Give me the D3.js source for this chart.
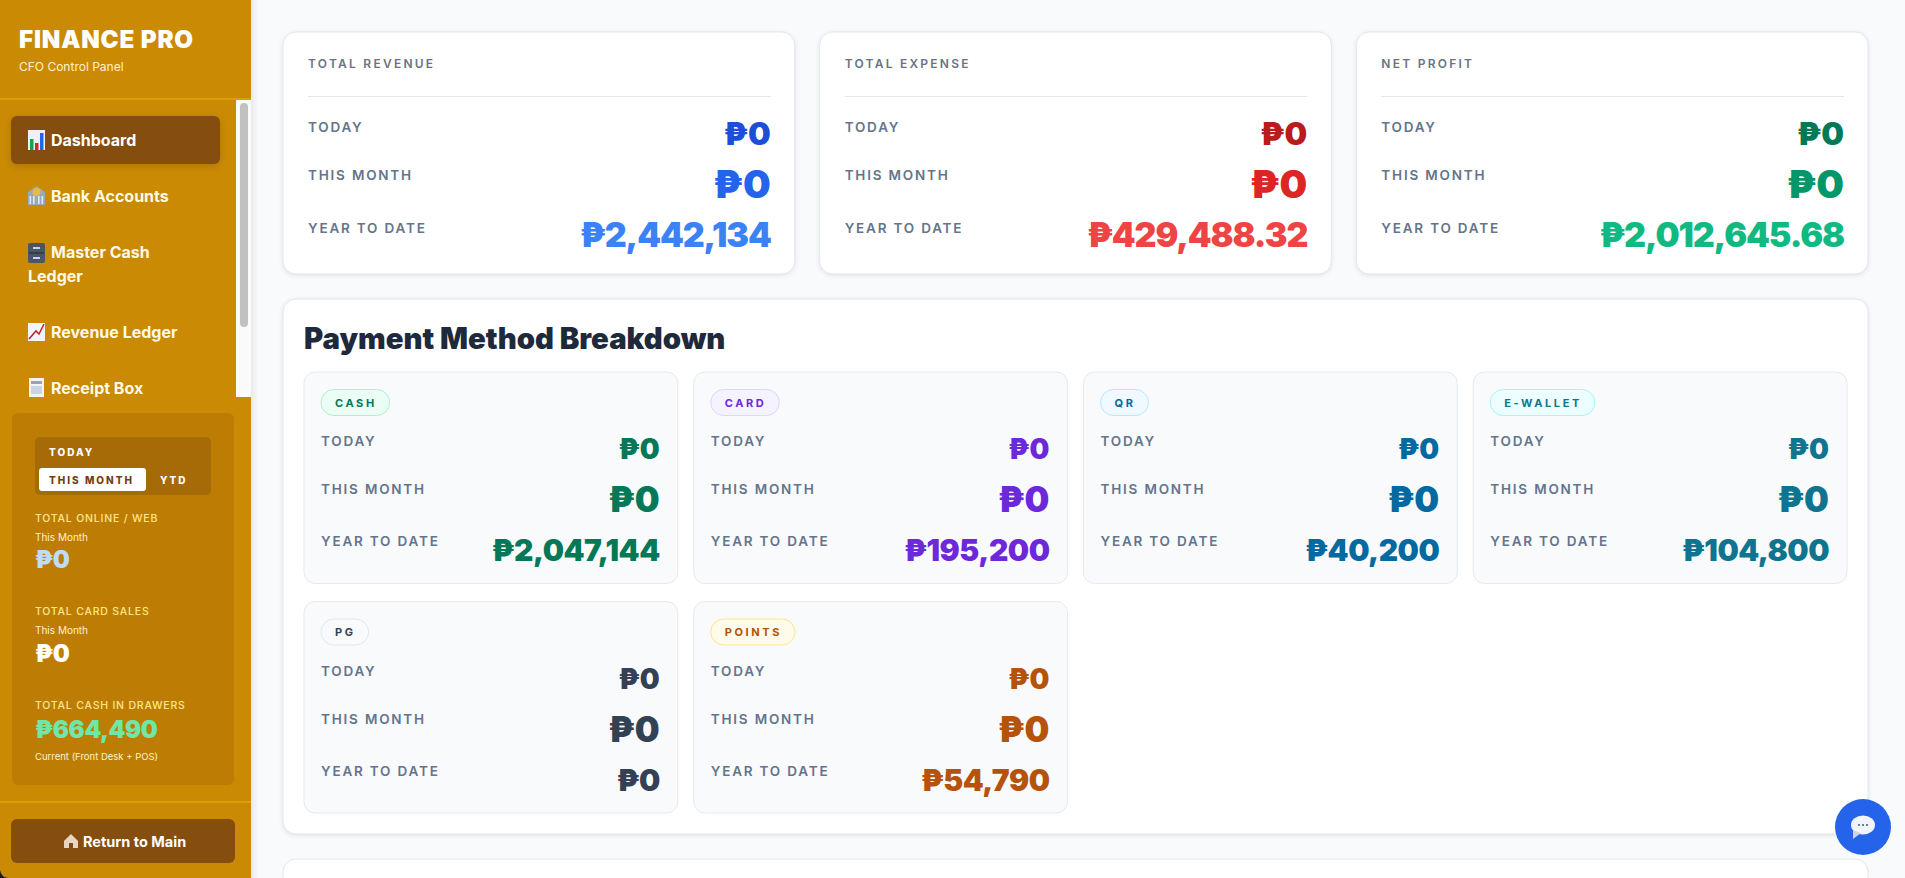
<!DOCTYPE html>
<html>
<head>
<meta charset="utf-8">
<title>Finance Pro</title>
<script src="https://cdn.jsdelivr.net/npm/d3@7"></script>
<style>
html, body { margin: 0; padding: 0; background: #f8fafc; overflow: hidden; }
svg { display: block; }
text { font-family: Inter, "Noto Sans", sans-serif; }
</style>
</head>
<body>
<div id="chart"></div>
<script>
// Summary cards
var summaryTitles = ['TOTAL REVENUE', 'TOTAL EXPENSE', 'NET PROFIT'];
var periodLabels = ['TODAY', 'THIS MONTH', 'YEAR TO DATE'];
var revenueValues = [0, 0, 2442134];
var expenseValues = [0, 0, 429488.32];
var profitValues = [0, 0, 2012645.68];
var revenueColors = ['#1d4ed8', '#2563eb', '#3b82f6'];
var expenseColors = ['#b91c1c', '#dc2626', '#ef4444'];
var profitColors = ['#047857', '#059669', '#10b981'];

// Payment methods
var methodNames = ['CASH', 'CARD', 'QR', 'E-WALLET', 'PG', 'POINTS'];
var methodToday = [0, 0, 0, 0, 0, 0];
var methodMonth = [0, 0, 0, 0, 0, 0];
var methodYtd = [2047144, 195200, 40200, 104800, 0, 54790];
var methodColors = ['#047857', '#6d28d9', '#0369a1', '#0e7490', '#334155', '#b45309'];
var pillFills = ['#ecfdf5', '#f5f3ff', '#f0f9ff', '#ecfeff', '#f8fafc', '#fffbeb'];
var pillBorders = ['#a7f3d0', '#ddd6fe', '#bae6fd', '#a5f3fc', '#e2e8f0', '#fde68a'];

// Sidebar
var navLabels = ['Dashboard', 'Bank Accounts', 'Master Cash', 'Ledger', 'Revenue Ledger', 'Receipt Box'];
var navYs = [140, 196, 252, 276, 332, 388];
var navX = [51, 51, 51, 28, 51, 51];

var totalNames = ['TOTAL ONLINE / WEB', 'TOTAL CARD SALES', 'TOTAL CASH IN DRAWERS'];
var totalSubs = ['This Month', 'This Month', 'Current (Front Desk + POS)'];
var totalValues = [0, 0, 664490];
var totalColors = ['#bfdbfe', '#ffffff', '#6ee7a8'];

var width = 1905, height = 878;
var money = d3.format(',');
function peso(v) { return '\u20B1' + money(v); }

var svg = d3.select('#chart').append('svg')
	.attr('width', width)
	.attr('height', height);

var defs = svg.append('defs');
defs.append('clipPath').attr('id', 'navClip')
	.append('rect').attr('x', 0).attr('y', 99).attr('width', 251).attr('height', 298);
var sideShadow = defs.append('linearGradient').attr('id', 'sideShadow');
sideShadow.append('stop').attr('offset', 0).attr('stop-color', '#e8eaed');
sideShadow.append('stop').attr('offset', 1).attr('stop-color', '#f8fafc');

function label(g, x, y, txt, o) {
	return g.append('text')
		.attr('x', x)
		.attr('y', y)
		.attr('text-anchor', o.anchor || 'start')
		.attr('dominant-baseline', 'central')
		.style('font-size', o.size + 'px')
		.style('font-weight', o.weight || 400)
		.style('letter-spacing', (o.spacing || 0) + 'px')
		.attr('fill', o.fill)
		.text(txt);
}

// page background
svg.append('rect').attr('width', width).attr('height', height).attr('fill', '#f8fafc');
svg.append('rect').attr('x', 251).attr('width', 8).attr('height', height).attr('fill', 'url(#sideShadow)');

/* Main area */
var main = svg.append('g');
var cardX = d3.scaleBand().domain(summaryTitles).range([283, 1868]).paddingInner(25 / 537);
var cardValueSize = d3.scaleOrdinal(periodLabels, [32, 39, 34]);
var cardLabelY = d3.scaleOrdinal(periodLabels, [127, 175, 227.5]);
var cardValueY = d3.scaleOrdinal(periodLabels, [133.5, 183.5, 234]);

var seriesByCard = [revenueValues, expenseValues, profitValues];
var colorsByCard = [revenueColors, expenseColors, profitColors];

summaryTitles.forEach(function(t, i) {
	var g = main.append('g');
	var x0 = cardX(t), w = cardX.bandwidth();
	g.append('rect')
		.attr('x', x0).attr('y', 32).attr('width', w).attr('height', 242)
		.attr('rx', 13).attr('fill', '#fff').attr('stroke', '#e2e8f0')
		.style('filter', 'drop-shadow(0 1px 2px rgba(15,23,42,.10))');
	label(g, x0 + 25, 63.5, t, {size: 12, weight: 600, spacing: 2.25, fill: '#6b7280'});
	g.append('line')
		.attr('x1', x0 + 25).attr('x2', x0 + w - 24)
		.attr('y1', 96.5).attr('y2', 96.5)
		.attr('stroke', '#e5e7eb');
	periodLabels.forEach(function(p, j) {
		label(g, x0 + 25, cardLabelY(p), p, {size: 13.5, weight: 600, spacing: 1.8, fill: '#64748b'});
		label(g, x0 + w - 24, cardValueY(p), peso(seriesByCard[i][j]), {
			size: cardValueSize(p), weight: 900, spacing: j === 2 ? -1.1 : 0, anchor: 'end', fill: colorsByCard[i][j]
		});
	});
});

// Payment panel
main.append('rect')
	.attr('x', 283).attr('y', 299).attr('width', 1585).attr('height', 535)
	.attr('rx', 13).attr('fill', '#fff').attr('stroke', '#e2e8f0')
	.style('filter', 'drop-shadow(0 1px 2px rgba(15,23,42,.10))');
label(main, 304, 338, 'Payment Method Breakdown', {size: 29.3, weight: 900, fill: '#1e293b'});

var colX = d3.scaleBand().domain(d3.range(4)).range([304, 1847]).paddingInner(16 / 390);
var rowY = d3.scaleBand().domain(d3.range(2)).range([372, 813]).paddingInner(18 / 229);
var methodValueSize = d3.scaleOrdinal(periodLabels, [28, 35, 30]);
var methodLabelDy = d3.scaleOrdinal(periodLabels, [69, 117, 169]);
var methodValueDy = d3.scaleOrdinal(periodLabels, [77, 127, 178]);

var methods = svg.selectAll('g.method')
	.data(methodNames)
	.enter()
	.append('g')
	.attr('class', 'method')
	.attr('transform', function(d, i) {
		return 'translate(' + colX(i % 4) + ',' + rowY(Math.floor(i / 4)) + ')';
	});

methods.append('rect')
	.attr('width', colX.bandwidth())
	.attr('height', rowY.bandwidth())
	.attr('rx', 11)
	.attr('fill', '#f8fafc')
	.attr('stroke', '#e5e9f0');

methods.each(function(d, i) {
	var g = d3.select(this);
	var w = colX.bandwidth();
	var pill = label(g, 31, 30.5, d, {size: 11, weight: 700, spacing: 2.6, fill: methodColors[i]});
	var tw = pill.node().getComputedTextLength();
	g.insert('rect', 'text')
		.attr('x', 17).attr('y', 17.5)
		.attr('width', tw + 27).attr('height', 26)
		.attr('rx', 13)
		.attr('fill', pillFills[i])
		.attr('stroke', pillBorders[i]);
	var vals = [methodToday[i], methodMonth[i], methodYtd[i]];
	periodLabels.forEach(function(p, j) {
		label(g, 17, methodLabelDy(p), p, {size: 13.5, weight: 600, spacing: 1.8, fill: '#64748b'});
		label(g, w - 18, methodValueDy(p), peso(vals[j]), {
			size: methodValueSize(p), weight: 900, spacing: j === 2 ? -0.5 : 0, anchor: 'end', fill: methodColors[i]
		});
	});
});

// Next panel, cut by the window
main.append('rect')
	.attr('x', 283).attr('y', 859).attr('width', 1585).attr('height', 60)
	.attr('rx', 13).attr('fill', '#fff').attr('stroke', '#e2e8f0');

/* Sidebar */
var side = svg.append('g');
side.append('rect').attr('width', 251).attr('height', height).attr('fill', '#ca8a04');
label(side, 19, 39, 'FINANCE PRO', {size: 24.2, weight: 900, spacing: 0.8, fill: '#fff'});
label(side, 19, 66, 'CFO Control Panel', {size: 12, fill: '#fef3c7'});
side.append('line').attr('x1', 0).attr('x2', 251).attr('y1', 99).attr('y2', 99).attr('stroke', '#eab308');

// nav scroll area
side.append('rect').attr('x', 236).attr('y', 100).attr('width', 15).attr('height', 297).attr('fill', '#fafafa');
side.append('rect').attr('x', 240).attr('y', 103).attr('width', 8).attr('height', 224).attr('rx', 4).attr('fill', '#c1c1c1');

var nav = side.append('g').attr('clip-path', 'url(#navClip)');
nav.append('rect').attr('x', 11).attr('y', 116).attr('width', 209).attr('height', 48).attr('rx', 6)
	.attr('fill', '#854d0e')
	.style('filter', 'drop-shadow(0 2px 3px rgba(0,0,0,.15))');
nav.selectAll('text')
	.data(navLabels)
	.enter()
	.append('text')
	.attr('x', function(d, i) { return navX[i]; })
	.attr('y', function(d, i) { return navYs[i]; })
	.attr('dominant-baseline', 'central')
	.style('font-size', '16px')
	.style('font-weight', 700)
	.attr('fill', function(d, i) { return i === 0 ? '#fff' : '#fef9e7'; })
	.text(function(d) { return d; });

// small nav icons, the emoji font is not available
function barsIcon(g, x, y) {
	g.append('rect').attr('x', x).attr('y', y).attr('width', 17).attr('height', 20).attr('fill', '#eef2f7');
	[[2, 9, '#16a34a'], [7, 13, '#dc2626'], [12, 3, '#2563eb']].forEach(function(b) {
		g.append('rect').attr('x', x + b[0]).attr('y', y + b[1]).attr('width', 3.5).attr('height', 20 - b[1]).attr('fill', b[2]);
	});
}
barsIcon(nav, 28, 130);

var bank = nav.append('g');
bank.append('path').attr('d', 'M28 192 L36.5 186 L45 192 L45 205 L28 205 Z').attr('fill', '#9aa9b8');
bank.selectAll('rect').data([29.5, 33, 38, 41.5]).enter().append('rect')
	.attr('x', function(d) { return d; }).attr('y', 196).attr('width', 1.6).attr('height', 8).attr('fill', '#e2e8f0');
bank.append('circle').attr('cx', 36.5).attr('cy', 192).attr('r', 4).attr('fill', '#e7b949');

nav.append('rect').attr('x', 28).attr('y', 243).attr('width', 17).attr('height', 20).attr('rx', 2).attr('fill', '#4b5563');
nav.append('line').attr('x1', 29).attr('x2', 44).attr('y1', 253).attr('y2', 253).attr('stroke', '#1f2937');
nav.selectAll('rect.handle').data([247, 257]).enter().append('rect').attr('class', 'handle')
	.attr('x', 33).attr('y', function(d) { return d; }).attr('width', 7).attr('height', 2).attr('fill', '#cbd5e1');

nav.append('rect').attr('x', 28).attr('y', 323).attr('width', 17).attr('height', 18).attr('fill', '#f1f5f9');
nav.append('path').attr('d', 'M29 339 L36 331 L39 334 L44 324').attr('fill', 'none').attr('stroke', '#c0262d').attr('stroke-width', 1.6);
nav.append('rect').attr('x', 29).attr('y', 378).attr('width', 15).attr('height', 19).attr('fill', '#f1f5f9');
nav.append('rect').attr('x', 31).attr('y', 381).attr('width', 11).attr('height', 3).attr('fill', '#94a3b8');
nav.append('rect').attr('x', 31).attr('y', 386).attr('width', 11).attr('height', 8).attr('fill', '#cbd5e1');

// totals panel
side.append('rect').attr('x', 12).attr('y', 413).attr('width', 222).attr('height', 372).attr('rx', 6).attr('fill', '#bd7d04');
side.append('rect').attr('x', 35).attr('y', 437).attr('width', 176).attr('height', 58).attr('rx', 5).attr('fill', '#a66a06');
side.append('rect').attr('x', 39).attr('y', 468).attr('width', 107).attr('height', 23).attr('rx', 3).attr('fill', '#fff');
label(side, 49, 452, 'TODAY', {size: 10, weight: 800, spacing: 2, fill: '#fff'});
label(side, 49, 479.5, 'THIS MONTH', {size: 10, weight: 800, spacing: 2, fill: '#713f12'});
label(side, 160, 479.5, 'YTD', {size: 10, weight: 800, spacing: 2, fill: '#fff'});

var totalNameY = d3.scaleOrdinal(totalNames, [518, 611, 705]);
var totalSubY = d3.scaleOrdinal(totalNames, [537, 630, 756]);
var totalValueY = d3.scaleOrdinal(totalNames, [559, 653, 729]);

totalNames.forEach(function(t, i) {
	label(side, 35, totalNameY(t), t, {size: 10.5, weight: 500, spacing: 0.8, fill: '#fde68a'});
	label(side, 35, totalSubY(t), totalSubs[i], {size: i === 2 ? 9.5 : 10, fill: '#fef3c7'});
	label(side, 35, totalValueY(t), peso(totalValues[i]), {size: 24, weight: 900, spacing: -0.4, fill: totalColors[i]});
});

// footer
side.append('line').attr('x1', 0).attr('x2', 251).attr('y1', 802).attr('y2', 802).attr('stroke', '#eab308');
side.append('rect').attr('x', 11).attr('y', 819).attr('width', 224).attr('height', 44).attr('rx', 6).attr('fill', '#854d0e');
label(side, 83, 841, 'Return to Main', {size: 14.5, weight: 700, fill: '#fff'});
side.append('path').attr('d', 'M64 841 L71 834 L78 841 L78 848 L64 848 Z').attr('fill', '#e8d5c0');
side.append('rect').attr('x', 69).attr('y', 843).attr('width', 4).attr('height', 5).attr('fill', '#7c4a1e');

// rounded window corner, bottom left
svg.append('path').attr('d', 'M0 870 Q1 877 8 878 L0 878 Z').attr('fill', '#1a1a1a');

// Chat button
var chat = svg.append('g');
chat.append('circle').attr('cx', 1863).attr('cy', 827).attr('r', 28).attr('fill', '#2563eb');
chat.append('ellipse').attr('cx', 1863).attr('cy', 825).attr('rx', 12).attr('ry', 9.5).attr('fill', '#f1f5f9');
chat.append('path').attr('d', 'M1853 830 L1853 839 L1861 833 Z').attr('fill', '#cbd5e1');
chat.selectAll('circle.dot')
	.data([-4, 0, 4])
	.enter()
	.append('circle')
	.attr('class', 'dot')
	.attr('cx', function(d) { return 1863 + d; })
	.attr('cy', 825)
	.attr('r', 1)
	.attr('fill', '#475569');
</script>
</body>
</html>
